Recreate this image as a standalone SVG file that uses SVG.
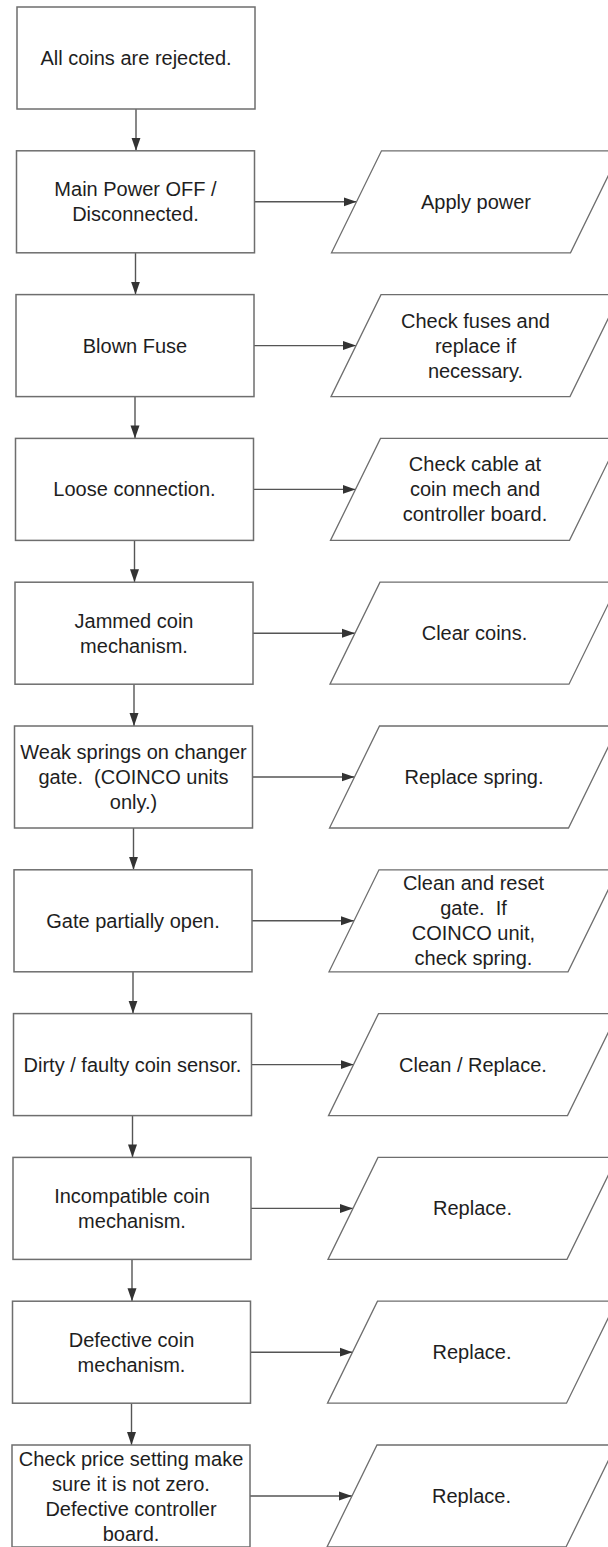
<svg xmlns="http://www.w3.org/2000/svg" width="608" height="1547" viewBox="0 0 608 1547">
<style>
.box{fill:#fff;stroke:#6e6e6e;stroke-width:1.5}
.io{fill:#fff;stroke:#6e6e6e;stroke-width:1.3}
.t{font-family:"Liberation Sans",Arial,sans-serif;font-size:20px;fill:#1e1e1e;text-anchor:middle}
.c{stroke:#555;stroke-width:1.4;fill:none;marker-end:url(#ah)}
</style>
<defs>
<marker id="ah" markerUnits="userSpaceOnUse" markerWidth="13" markerHeight="10" refX="13" refY="5" orient="auto">
<path d="M0,0.5 L13,5 L0,9.5 z" fill="#333"/>
</marker>
</defs>
<rect width="608" height="1547" fill="#fff"/>
<g id="connectors">
<line class="c" x1="136" y1="109" x2="136" y2="150.8"/>
<line class="c" x1="135.5" y1="252.8" x2="135.5" y2="294.6"/>
<line class="c" x1="135" y1="396.6" x2="135" y2="438.4"/>
<line class="c" x1="134.5" y1="540.4" x2="134.5" y2="582.2"/>
<line class="c" x1="134" y1="684.2" x2="134" y2="726"/>
<line class="c" x1="133.5" y1="828" x2="133.5" y2="869.8"/>
<line class="c" x1="133" y1="971.8" x2="133" y2="1013.6"/>
<line class="c" x1="132.5" y1="1115.6" x2="132.5" y2="1157.4"/>
<line class="c" x1="132" y1="1259.4" x2="132" y2="1301.2"/>
<line class="c" x1="131.5" y1="1403.2" x2="131.5" y2="1445"/>
<line class="c" x1="254.5" y1="201.8" x2="356.5" y2="201.8"/>
<line class="c" x1="254" y1="345.6" x2="356" y2="345.6"/>
<line class="c" x1="253.5" y1="489.4" x2="355.5" y2="489.4"/>
<line class="c" x1="253" y1="633.2" x2="355" y2="633.2"/>
<line class="c" x1="252.5" y1="777" x2="354.5" y2="777"/>
<line class="c" x1="252" y1="920.8" x2="354" y2="920.8"/>
<line class="c" x1="251.5" y1="1064.6" x2="353.5" y2="1064.6"/>
<line class="c" x1="251" y1="1208.4" x2="353" y2="1208.4"/>
<line class="c" x1="250.5" y1="1352.2" x2="352.5" y2="1352.2"/>
<line class="c" x1="250" y1="1496" x2="352" y2="1496"/>
</g>
<g id="n1"><rect class="box" x="17" y="7" width="238" height="102"/><text class="t" x="136" y="65">All coins are rejected.</text></g>
<g id="n2"><rect class="box" x="16.5" y="150.8" width="238" height="102"/><text class="t" x="135.5" y="196.3">Main Power OFF /</text><text class="t" x="135.5" y="221.3">Disconnected.</text></g>
<g id="p2"><polygon class="io" points="381.5,150.8 620.5,150.8 570.5,252.8 331.5,252.8"/><text class="t" x="476" y="208.8">Apply power</text></g>
<g id="n3"><rect class="box" x="16" y="294.6" width="238" height="102"/><text class="t" x="135" y="352.6">Blown Fuse</text></g>
<g id="p3"><polygon class="io" points="381,294.6 620,294.6 570,396.6 331,396.6"/><text class="t" x="475.5" y="327.6">Check fuses and</text><text class="t" x="475.5" y="352.6">replace if</text><text class="t" x="475.5" y="377.6">necessary.</text></g>
<g id="n4"><rect class="box" x="15.5" y="438.4" width="238" height="102"/><text class="t" x="134.5" y="496.4">Loose connection.</text></g>
<g id="p4"><polygon class="io" points="380.5,438.4 619.5,438.4 569.5,540.4 330.5,540.4"/><text class="t" x="475" y="471.4">Check cable at</text><text class="t" x="475" y="496.4">coin mech and</text><text class="t" x="475" y="521.4">controller board.</text></g>
<g id="n5"><rect class="box" x="15" y="582.2" width="238" height="102"/><text class="t" x="134" y="627.7">Jammed coin</text><text class="t" x="134" y="652.7">mechanism.</text></g>
<g id="p5"><polygon class="io" points="380,582.2 619,582.2 569,684.2 330,684.2"/><text class="t" x="474.5" y="640.2">Clear coins.</text></g>
<g id="n6"><rect class="box" x="14.5" y="726" width="238" height="102"/><text class="t" x="133.5" y="759">Weak springs on changer</text><text class="t" x="133.5" y="784" xml:space="preserve">gate.  (COINCO units</text><text class="t" x="133.5" y="809">only.)</text></g>
<g id="p6"><polygon class="io" points="379.5,726 618.5,726 568.5,828 329.5,828"/><text class="t" x="474" y="784">Replace spring.</text></g>
<g id="n7"><rect class="box" x="14" y="869.8" width="238" height="102"/><text class="t" x="133" y="927.8">Gate partially open.</text></g>
<g id="p7"><polygon class="io" points="379,869.8 618,869.8 568,971.8 329,971.8"/><text class="t" x="473.5" y="890.3">Clean and reset</text><text class="t" x="473.5" y="915.3" xml:space="preserve">gate.  If</text><text class="t" x="473.5" y="940.3">COINCO unit,</text><text class="t" x="473.5" y="965.3">check spring.</text></g>
<g id="n8"><rect class="box" x="13.5" y="1013.6" width="238" height="102"/><text class="t" x="132.5" y="1071.6">Dirty / faulty coin sensor.</text></g>
<g id="p8"><polygon class="io" points="378.5,1013.6 617.5,1013.6 567.5,1115.6 328.5,1115.6"/><text class="t" x="473" y="1071.6">Clean / Replace.</text></g>
<g id="n9"><rect class="box" x="13" y="1157.4" width="238" height="102"/><text class="t" x="132" y="1202.9">Incompatible coin</text><text class="t" x="132" y="1227.9">mechanism.</text></g>
<g id="p9"><polygon class="io" points="378,1157.4 617,1157.4 567,1259.4 328,1259.4"/><text class="t" x="472.5" y="1215.4">Replace.</text></g>
<g id="n10"><rect class="box" x="12.5" y="1301.2" width="238" height="102"/><text class="t" x="131.5" y="1346.7">Defective coin</text><text class="t" x="131.5" y="1371.7">mechanism.</text></g>
<g id="p10"><polygon class="io" points="377.5,1301.2 616.5,1301.2 566.5,1403.2 327.5,1403.2"/><text class="t" x="472" y="1359.2">Replace.</text></g>
<g id="n11"><rect class="box" x="12" y="1445" width="238" height="102"/><text class="t" x="131" y="1465.5">Check price setting make</text><text class="t" x="131" y="1490.5">sure it is not zero.</text><text class="t" x="131" y="1515.5">Defective controller</text><text class="t" x="131" y="1540.5">board.</text></g>
<g id="p11"><polygon class="io" points="377,1445 616,1445 566,1547 327,1547"/><text class="t" x="471.5" y="1503">Replace.</text></g>
</svg>
